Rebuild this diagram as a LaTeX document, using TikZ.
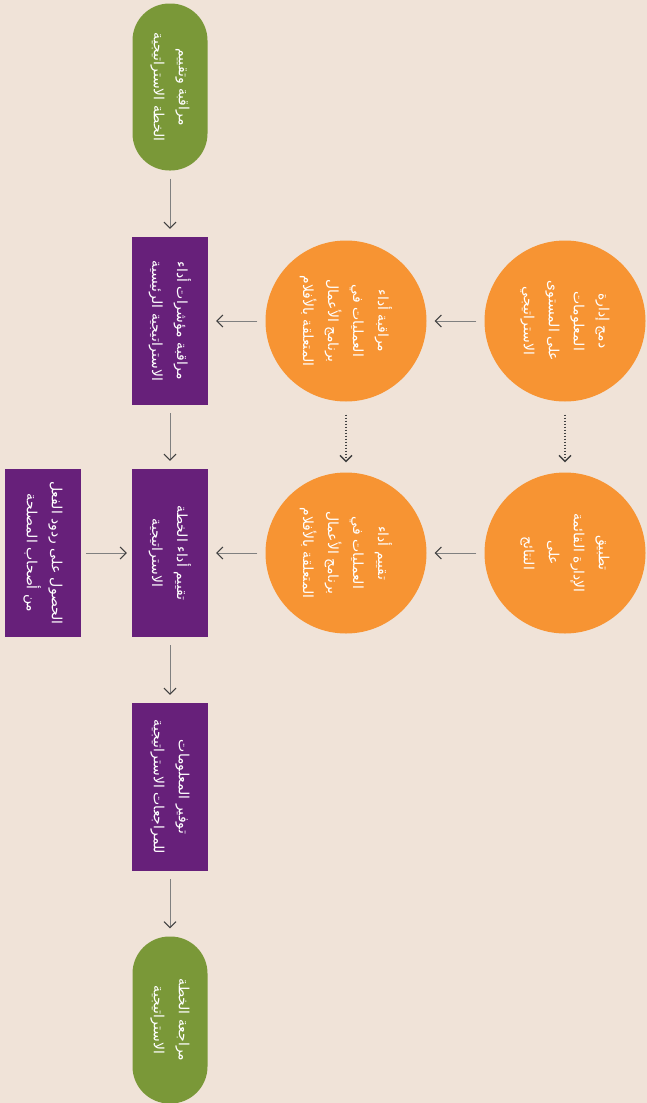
\documentclass[tikz,border=0pt]{standalone}
\usepackage{fontspec}
\newfontfamily\arabicfont[Script=Arabic]{DejaVu Sans}
\TeXXeTstate=1
\usetikzlibrary{arrows.meta}
\definecolor{bgbeige}{RGB}{240,227,216}
\definecolor{leafgreen}{RGB}{122,152,56}
\definecolor{plum}{RGB}{103,32,122}
\definecolor{tangerine}{RGB}{247,148,51}
\newcommand{\rl}[1]{\beginR #1\endR}

\begin{document}
\begin{tikzpicture}[x=1pt,y=-1pt,
  txt/.style={text=white,font=\arabicfont\fontsize{14}{25}\selectfont,align=center,rotate=-90},
  pill/.style={txt,fill=leafgreen,rounded corners=37pt,minimum width=167pt,minimum height=75pt},
  panel/.style={txt,fill=plum,minimum width=168pt,minimum height=76pt},
  disc/.style={txt,circle,fill=tangerine,minimum size=161pt,inner sep=0pt},
  arr/.style={draw=gray,line width=1pt,-{Straight Barb[length=6pt,width=12pt,color=black!75]},shorten >=8pt,shorten <=8pt},
  dots/.style={arr,draw=black!75,dotted,line width=1.3pt,shorten >=10pt,shorten <=13pt}]
\path[use as bounding box,fill=bgbeige] (0,0) rectangle (647,1103);
\node[pill] (evalplan) at (170,87) {\rl{مراقبة وتقييم}\\\rl{الخطة الاستراتيجية}};
\node[panel] (kpi) at (170,321) {\rl{مراقبة مؤشرات أداء}\\\rl{الاستراتيجية الرئيسية}};
\node[panel] (assess) at (170,553) {\rl{تقييم أداء الخطة}\\\rl{الاستراتيجية}};
\node[panel] (supply) at (170,787) {\rl{توفير المعلومات}\\\rl{للمراجعات الاستراتيجية}};
\node[pill] (review) at (170,1020) {\rl{مراجعة الخطة}\\\rl{الاستراتيجية}};
\node[panel] (feedback) at (43,553) {\rl{الحصول على ردود الفعل}\\\rl{من أصحاب المصلحة}};
\node[disc] (monitorops) at (346,321) {\rl{مراقبة أداء}\\\rl{العمليات في}\\\rl{برنامج الأعمال}\\\rl{المتعلقة بالأفلام}};
\node[disc] (integrate) at (565,321) {\rl{دمج إدارة}\\\rl{المعلومات}\\\rl{على المستوى}\\\rl{الاستراتيجي}};
\node[disc] (assessops) at (346,553) {\rl{تقييم أداء}\\\rl{العمليات في}\\\rl{برنامج الأعمال}\\\rl{المتعلقة بالأفلام}};
\node[disc] (results) at (565,553) {\rl{تطبيق}\\\rl{الإدارة القائمة}\\\rl{على}\\\rl{النتائج}};
\draw[arr] (evalplan) -- (kpi);
\draw[arr] (kpi) -- (assess);
\draw[arr] (assess) -- (supply);
\draw[arr] (supply) -- (review);
\draw[arr,shorten >=5pt,shorten <=5pt] (feedback) -- (assess);
\draw[arr] (integrate) -- (monitorops);
\draw[arr] (monitorops) -- (kpi);
\draw[arr] (results) -- (assessops);
\draw[arr] (assessops) -- (assess);
\draw[dots] (monitorops) -- (assessops);
\draw[dots] (integrate) -- (results);
\end{tikzpicture}
\end{document}
